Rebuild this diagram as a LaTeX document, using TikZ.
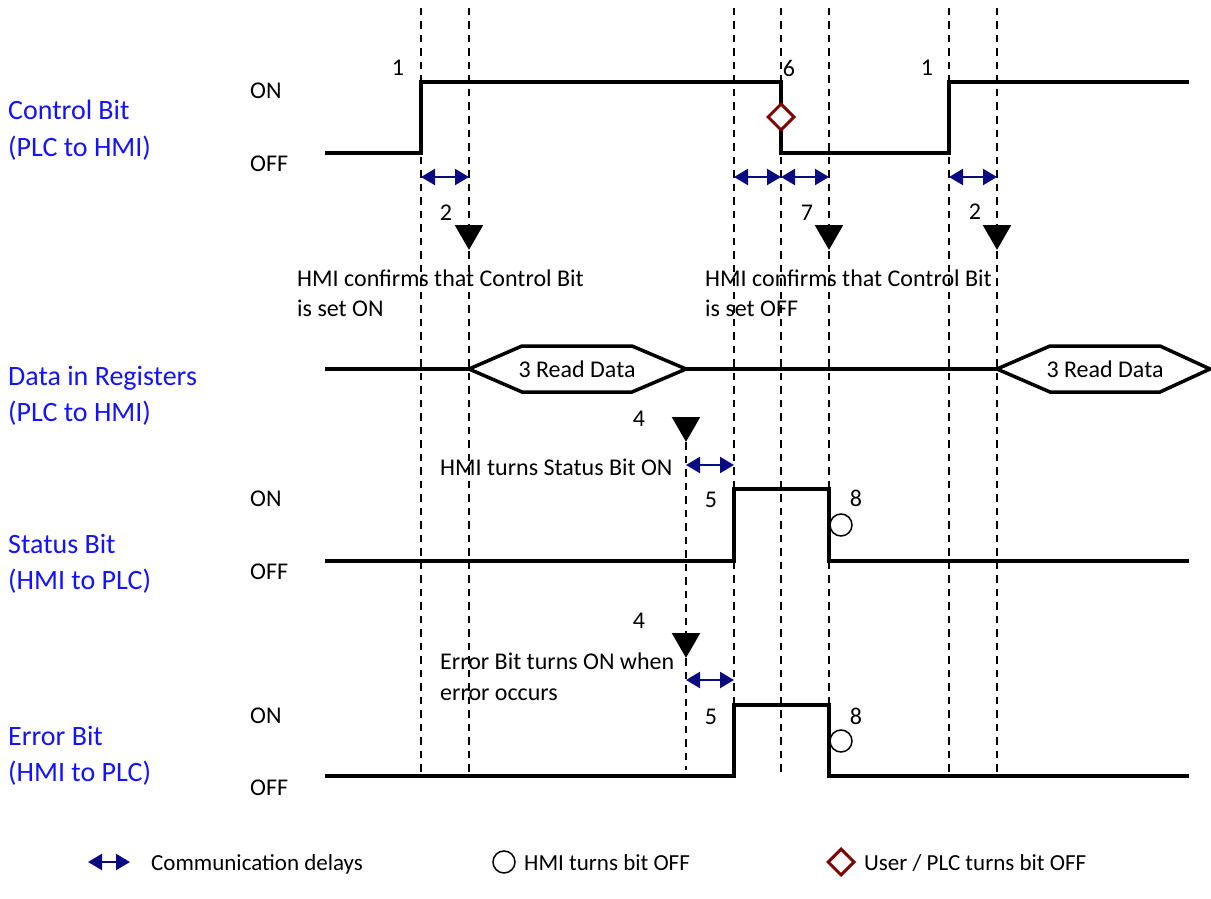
\documentclass[tikz,border=0pt]{standalone}
\usepackage{fontspec}
\setmainfont{Carlito}
\usetikzlibrary{positioning,shapes.geometric,arrows.meta}

\definecolor{delayblue}{RGB}{10,10,130}
\definecolor{userred}{RGB}{128,0,0}
\definecolor{sigblue}{RGB}{20,20,250}

\begin{document}
\begin{tikzpicture}[x=1pt, y=-1pt, >=Latex,
  sig/.style={line width=3.5pt},
  guide/.style={line width=1.8pt, dash pattern=on 7.5pt off 6pt},
  delay/.style={>={Triangle[length=14pt,width=16pt]}, <->, delayblue, line width=2.2pt},
  trig/.style={regular polygon, regular polygon sides=3, shape border rotate=180, fill, inner sep=0pt, minimum size=33pt},
  hmioff/.style={circle, draw, line width=1.5pt, inner sep=0pt, minimum size=22pt},
  useroff/.style={diamond, draw=userred, fill=white, line width=3pt, inner sep=0pt, minimum size=27pt},
  txt/.style={font=\fontsize{24}{29}\selectfont, inner sep=0pt, anchor=base west},
  num/.style={font=\fontsize{24}{29}\selectfont, inner sep=0pt},
  lvl/.style={font=\fontsize{24}{29}\selectfont, inner sep=0pt, anchor=west},
  signame/.style={font=\fontsize{28}{34}\selectfont, text=sigblue, inner sep=0pt, anchor=base west},
  legtxt/.style={font=\fontsize{23}{28}\selectfont, inner sep=0pt, anchor=base west}]

  \useasboundingbox (0,0) rectangle (1211,899);

  % time marks
  \foreach \t/\x in {a/421,b/469,c/734,d/781,e/829,f/949,g/997} {
    \coordinate (top\t) at (\x,8);
    \coordinate (bot\t) at (\x,772);
    \draw[guide] (top\t) -- (bot\t);
  }

  % signal names
  \node[signame] (ctl1) at (8,120) {Control Bit};
  \node[signame] (ctl2) at (8,156) {(PLC to HMI)};
  \node[signame] (dat1) at (8,385) {Data in Registers};
  \node[signame] (dat2) at (8,421) {(PLC to HMI)};
  \node[signame] (sta1) at (8,553) {Status Bit};
  \node[signame] (sta2) at (8,589) {(HMI to PLC)};
  \node[signame] (err1) at (8,745) {Error Bit};
  \node[signame] (err2) at (8,781) {(HMI to PLC)};

  \node[lvl] (ctlon) at (250,91) {ON};
  \node[lvl] (ctloff) at (250,164) {OFF};
  \node[lvl] (staon) at (250,499) {ON};
  \node[lvl] (staoff) at (250,572) {OFF};
  \node[lvl] (erron) at (250,716) {ON};
  \node[lvl] (erroff) at (250,788) {OFF};

  % waveforms
  \draw[sig] (325,153) -| (421,82) -| (781,153) -| (949,82) -- (1189,82);
  \draw[sig] (325,369) -- (469,369) (686,369) -- (997,369);
  \draw[sig] (469,369) -- (522,346) -- (632,346) -- (686,369) -- (632,392) -- (522,392) -- cycle;
  \draw[sig] (997,369) -- (1050,346) -- (1160,346) -- (1210,369) -- (1160,392) -- (1050,392) -- cycle;
  \node[num] (rd1) at (577,369) {3 Read Data};
  \node[num] (rd2) at (1105,369) {3 Read Data};
  \draw[sig] (325,561) -| (734,489) -| (829,561) -- (1189,561);
  \draw[sig] (325,776) -| (734,705) -| (829,776) -- (1189,776);

  % delays
  \draw[delay] (topa |- 0,177) -- (topb |- 0,177);
  \draw[delay] (topc |- 0,177) -- (topd |- 0,177);
  \draw[delay] (topd |- 0,177) -- (tope |- 0,177);
  \draw[delay] (topf |- 0,177) -- (topg |- 0,177);
  \draw[delay] (686,465) -- (topc |- 0,465);
  \draw[delay] (686,680) -- (topc |- 0,680);

  % events
  \node[trig] (m2a) at (469,233.3) {};
  \node[trig] (m7) at (829,233.3) {};
  \node[trig] (m2b) at (997,233.3) {};
  \node[trig] (m4a) at (686,425.3) {};
  \node[trig] (m4b) at (686,641.3) {};
  \coordinate (bot4) at (686,770);
  \draw[guide] (m4a.south) -- (bot4);

  \node[useroff] (u6) at (781,117) {};
  \node[hmioff] (h8a) at (841,525) {};
  \node[hmioff] (h8b) at (841,741) {};

  \node[num] (n1a) at (398,68) {1};
  \node[num] (n6) at (789,68) {6};
  \node[num] (n1b) at (927,68) {1};
  \node[num] (n2a) at (446,213) {2};
  \node[num] (n7) at (807,213) {7};
  \node[num] (n2b) at (975,212) {2};
  \node[num] (n4a) at (639,419) {4};
  \node[num] (n4b) at (639,621) {4};
  \node[num] (n5a) at (711,500) {5};
  \node[num] (n8a) at (856,498) {8};
  \node[num] (n5b) at (711,717) {5};
  \node[num] (n8b) at (856,716) {8};

  \node[txt] (conf1a) at (297,286) {HMI confirms that Control Bit};
  \node[txt] (conf1b) at (297,316) {is set ON};
  \node[txt] (conf2a) at (705,286) {HMI confirms that Control Bit};
  \node[txt] (conf2b) at (705,316) {is set OFF};
  \node[txt] (stat) at (440,475) {HMI turns Status Bit ON};
  \node[txt] (erra) at (440,669) {Error Bit turns ON when};
  \node[txt] (errb) at (440,700) {error occurs};

  % legend
  \coordinate (lga) at (88,862);
  \coordinate (lgb) at (130,862);
  \draw[delay] (lga) -- (lgb);
  \node[legtxt] (lg1) at (151,870) {Communication delays};
  \node[hmioff] (lgc) at (504,862) {};
  \node[legtxt] (lg2) at (524,870) {HMI turns bit OFF};
  \node[useroff] (lgd) at (841,862) {};
  \node[legtxt] (lg3) at (864,870) {User / PLC turns bit OFF};
\end{tikzpicture}
\end{document}
